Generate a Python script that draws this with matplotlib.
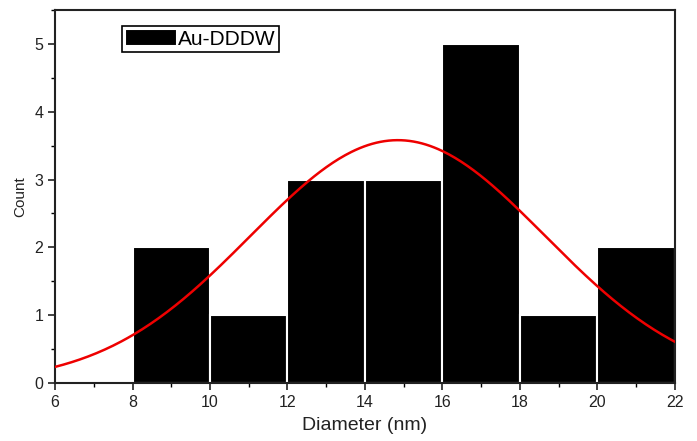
import numpy as np
import matplotlib
matplotlib.use("Agg")
import matplotlib.pyplot as plt
from matplotlib.ticker import MultipleLocator

plt.rcParams["font.family"] = ["Liberation Sans", "DejaVu Sans"]

bin_edges = [8, 10, 12, 14, 16, 18, 20, 22]
counts = [2, 1, 3, 3, 5, 1, 2]

# normal fit drawn over the histogram
fit_center = 14.85
fit_sigma = 3.8
fit_peak = 3.58

fig = plt.figure(figsize=(6.97, 4.41), dpi=100)
ax = fig.add_axes([0.079, 0.1315, 0.889, 0.846])

lefts = bin_edges[:-1]
widths = np.diff(bin_edges)
ax.bar(lefts, counts, width=widths, align="edge", color="black",
       edgecolor="white", linewidth=1.5, label="Au-DDDW", zorder=2)

xs = np.linspace(6, 22, 300)
ys = fit_peak * np.exp(-(xs - fit_center) ** 2 / (2 * fit_sigma ** 2))
ax.plot(xs, ys, color="#ee0000", linewidth=1.8, zorder=3)

ax.set_xlim(6, 22)
ax.set_ylim(0, 5.5)
ax.xaxis.set_major_locator(MultipleLocator(2))
ax.xaxis.set_minor_locator(MultipleLocator(1))
ax.yaxis.set_major_locator(MultipleLocator(1))
ax.yaxis.set_minor_locator(MultipleLocator(0.5))
ax.tick_params(which="major", direction="out", length=5, width=1.2,
               labelsize=11.5, colors="#222222")
ax.tick_params(which="minor", direction="out", length=3, width=1.0)
for s in ax.spines.values():
    s.set_linewidth(1.5)
    s.set_color("#222222")

ax.set_xlabel("Diameter (nm)", fontsize=14, color="#222222", labelpad=5)
ax.set_ylabel("Count", fontsize=11, color="#222222", labelpad=5)

leg = ax.legend(loc="upper left", bbox_to_anchor=(0.108, 0.958), fontsize=15,
                fancybox=False, edgecolor="black", framealpha=1,
                handlelength=2.5, handleheight=0.9, handletextpad=0.05,
                borderpad=0.15, borderaxespad=0)
leg.get_frame().set_linewidth(1.2)

fig.savefig("out.png", dpi=100)
